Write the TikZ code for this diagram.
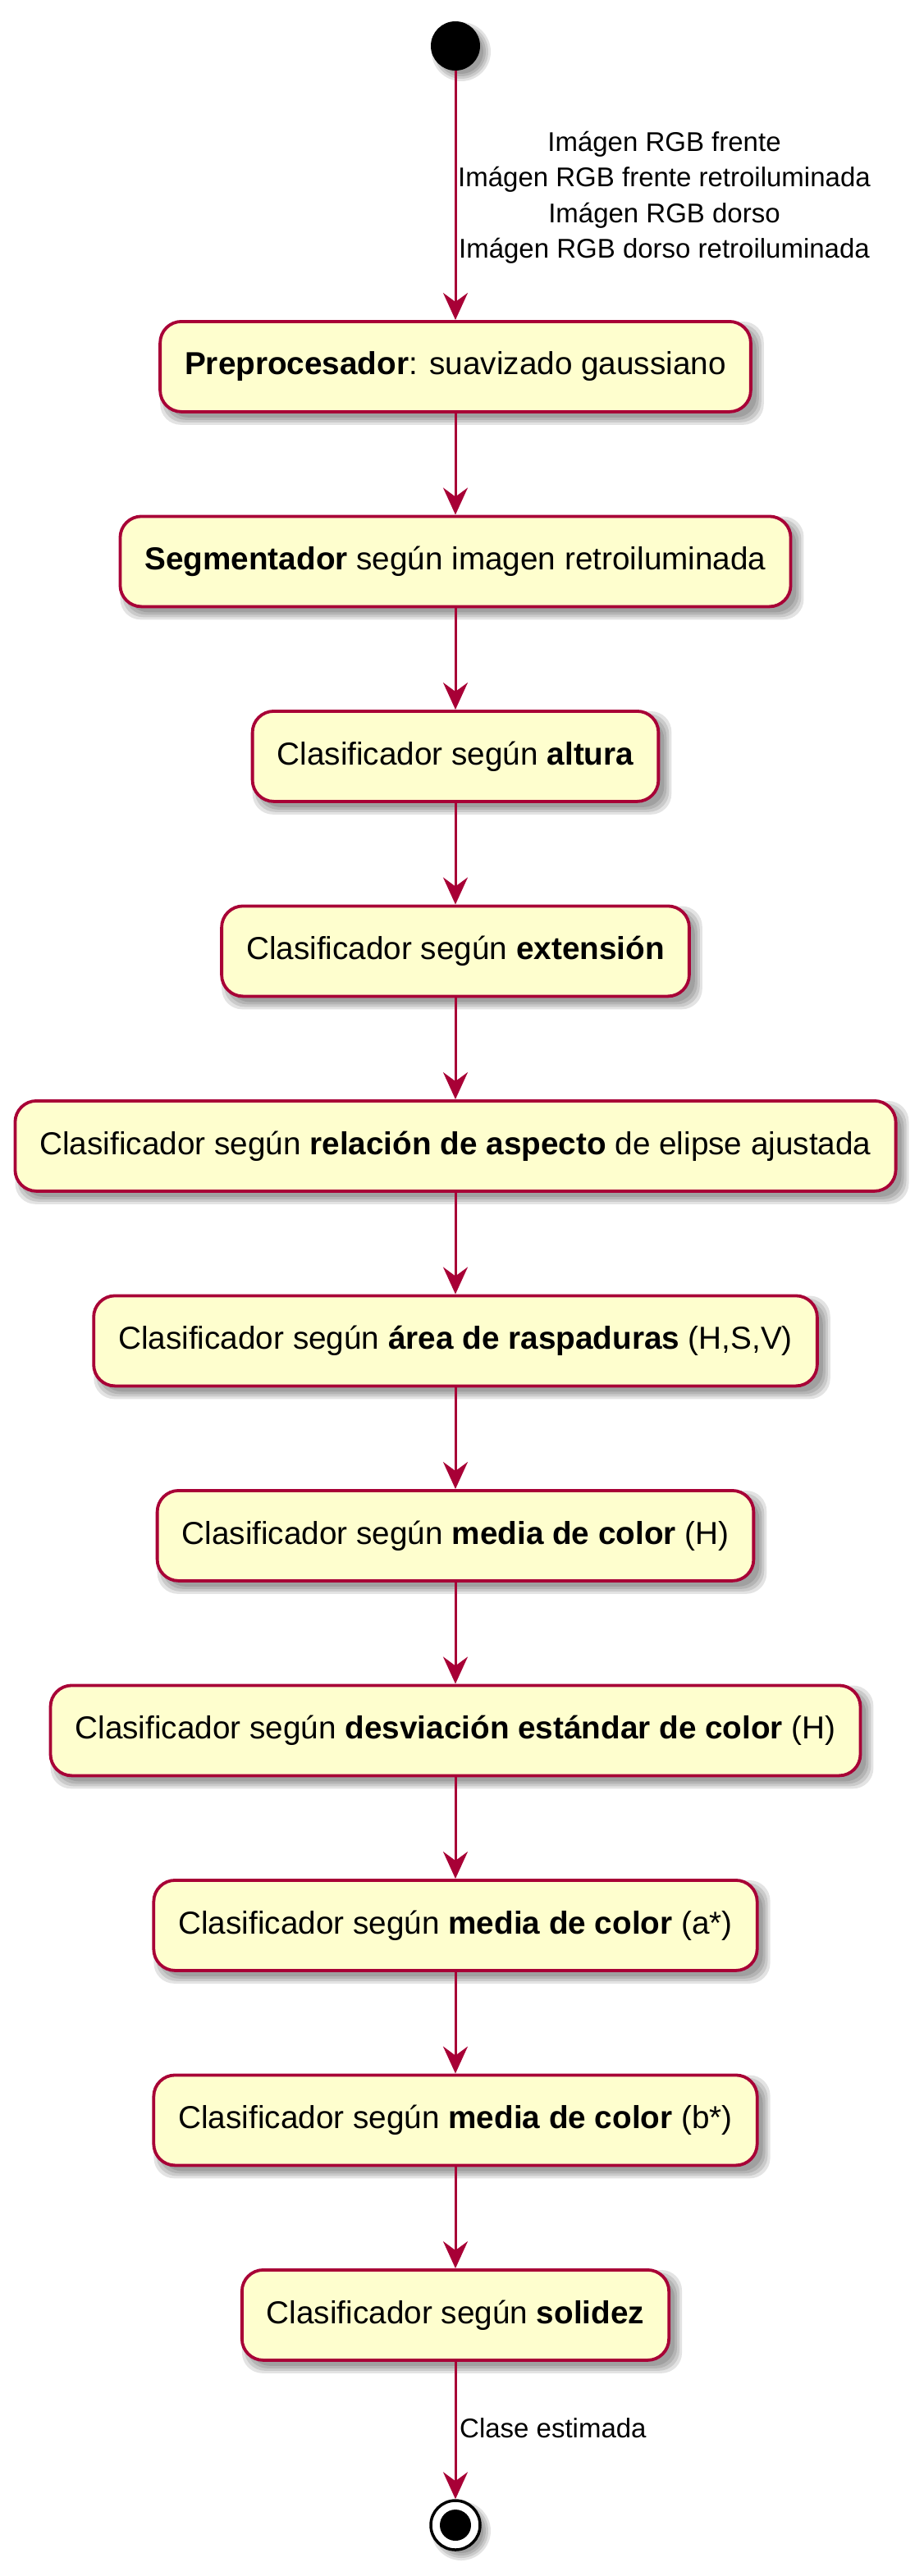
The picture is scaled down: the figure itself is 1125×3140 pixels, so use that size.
\documentclass[tikz,border=0pt]{standalone}
\usepackage{fontspec}
\setmainfont{Liberation Sans}
\usetikzlibrary{arrows.meta,backgrounds,calc}
\definecolor{pfill}{HTML}{FEFECE}
\definecolor{pline}{HTML}{A80036}
\begin{document}
\begin{tikzpicture}[x=1pt,y=-1pt,
  act/.style={draw=pline, fill=pfill, line width=3.8pt, rounded corners=26pt, minimum height=110pt, inner xsep=30pt, inner ysep=0pt, font=\fontsize{38.7}{46}\selectfont, anchor=north},
  flow/.style={draw=pline, line width=3pt, -{Stealth[length=33pt,width=30pt,inset=11pt]}},
  lbl/.style={font=\fontsize{33}{43.5}\selectfont, align=center, inner sep=0pt}]
\useasboundingbox (0,0) rectangle (1125,3140);
\node[circle, fill=black, minimum size=60pt, inner sep=0pt] (start) at (555,56) {};
\node[act] (p1) at (555,390) {\textbf{Preprocesador}: suavizado gaussiano};
\node[act] (p2) at (555,627.5) {\textbf{Segmentador} según imagen retroiluminada};
\node[act] (p3) at (555,865) {Clasificador según \textbf{altura}};
\node[act] (p4) at (555,1102.5) {Clasificador según \textbf{extensión}};
\node[act] (p5) at (555,1340) {Clasificador según \textbf{relación de aspecto} de elipse ajustada};
\node[act] (p6) at (555,1577.5) {Clasificador según \textbf{área de raspaduras} (H,S,V)};
\node[act] (p7) at (555,1815) {Clasificador según \textbf{media de color} (H)};
\node[act] (p8) at (555,2052.5) {Clasificador según \textbf{desviación estándar de color} (H)};
\node[act] (p9) at (555,2290) {Clasificador según \textbf{media de color} (a*)};
\node[act] (p10) at (555,2527.5) {Clasificador según \textbf{media de color} (b*)};
\node[act] (p11) at (555,2765) {Clasificador según \textbf{solidez}};
\node[circle, draw=black, line width=3.5pt, fill=white, minimum size=60pt, inner sep=0pt] (end) at (555,3078) {};
\node[circle, fill=black, minimum size=38pt, inner sep=0pt] (endin) at (end) {};
\node[lbl, anchor=west] (l1) at (558,241) {Imágen RGB frente\\Imágen RGB frente retroiluminada\\Imágen RGB dorso\\Imágen RGB dorso retroiluminada};
\node[lbl, anchor=west] (l2) at (560,2960) {Clase estimada};
\draw[flow] (start) -- (p1);
\foreach \a/\b in {p1/p2,p2/p3,p3/p4,p4/p5,p5/p6,p6/p7,p7/p8,p8/p9,p9/p10,p10/p11}
  \draw[flow] (\a) -- (\b);
\draw[flow] (p11) -- (end);
\begin{scope}[on background layer]
\foreach \n in {p1,p2,p3,p4,p5,p6,p7,p8,p9,p10,p11}{
  \foreach \e in {-3,0,3,6}{
    \fill[black, opacity=0.11, rounded corners=25pt] ($(\n.south west)+(8-\e,8+\e)$) rectangle ($(\n.north east)+(8+\e,8-\e)$);
  }
}
\foreach \n in {start,end}{
  \foreach \e in {-3,0,3,6}{
    \fill[black, opacity=0.11] ($(\n.center)+(7,7)$) circle (30+\e);
  }
}
\end{scope}
\end{tikzpicture}
\end{document}
